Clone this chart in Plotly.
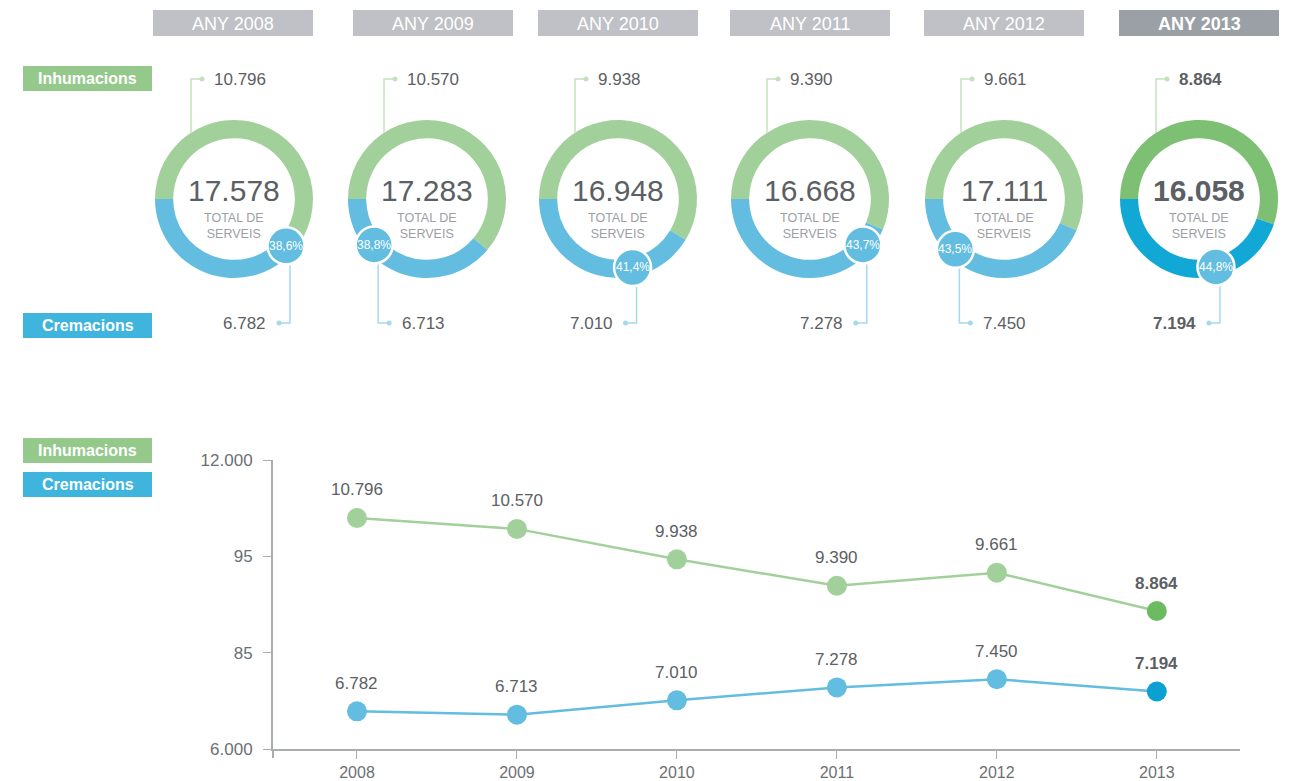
import math
import plotly.graph_objects as go

# ---------------- data ----------------
years = [2008, 2009, 2010, 2011, 2012, 2013]
year_labels = ["ANY 2008", "ANY 2009", "ANY 2010", "ANY 2011", "ANY 2012", "ANY 2013"]
inhumacions = [10796, 10570, 9938, 9390, 9661, 8864]
cremacions = [6782, 6713, 7010, 7278, 7450, 7194]
totals = [17578, 17283, 16948, 16668, 17111, 16058]
pct_labels = ["38,6%", "38,8%", "41,4%", "43,7%", "43,5%", "44,8%"]
y_tick_vals = [6000, 8000, 10000, 12000]
y_tick_text = ["6.000", "85", "95", "12.000"]


def fmt(v):
    return f"{v:,}".replace(",", ".")


# ---------------- layout helpers (window pixel -> paper; page body has an 8px margin) ----------------
W, H = 1291, 781
OFF = 8
FONT = "Liberation Sans, Arial, sans-serif"


def px(x):
    return (x - OFF) / W


def py(y):
    return 1 - (y - OFF) / H


GREEN = "#a2d09a"
BLUE = "#62bde0"
GREEN_DK = "#7dc073"
BLUE_DK = "#12a8d6"
GREEN_LEAD = "#c3e2bc"
BLUE_LEAD = "#a6d8ee"
TXT = "#5b6064"
SUB = "#9ca0a4"
AXIS = "#a9adb0"

# donut geometry (pixels)
centers_x = [234, 427, 618, 810, 1004, 1199]
center_y = 199
R = 79
badge_angles = [132, 229, 168, 131, 224, 166]   # clockwise from 12 o'clock
badge_side = [-1, 1, -1, -1, 1, -1]            # bottom label side
header_x0 = [153, 353, 538, 730, 924, 1119]
header_w = 160

fig = go.Figure()
shapes = []
annotations = []


def note(x, y, text, size, color, xanchor="center", family=FONT, xref="paper", yref="paper", yshift=0):
    annotations.append(dict(xref=xref, yref=yref, x=x, y=y, text=text, showarrow=False,
                            xanchor=xanchor, yanchor="middle", yshift=yshift,
                            font=dict(size=size, color=color, family=family)))


for i, yr in enumerate(years):
    cx = centers_x[i]
    last = i == len(years) - 1
    g = GREEN_DK if last else GREEN
    b = BLUE_DK if last else BLUE
    fig.add_trace(go.Pie(
        values=[inhumacions[i], cremacions[i]],
        labels=["Inhumacions", "Cremacions"],
        marker=dict(colors=[g, b], line=dict(width=0)),
        hole=0.77, sort=False, direction="clockwise", rotation=270,
        textinfo="none", showlegend=False, automargin=False,
        domain=dict(x=[px(cx - R), px(cx + R)], y=[py(center_y + R), py(center_y - R)]),
    ))

    # header
    shapes.append(dict(type="rect", xref="paper", yref="paper",
                       x0=px(header_x0[i]), x1=px(header_x0[i] + header_w),
                       y0=py(36), y1=py(10), line=dict(width=0),
                       fillcolor="#9b9fa6" if last else "#bfc1c6"))
    note(px(header_x0[i] + header_w / 2), py(23.5),
         f"<b>{year_labels[i]}</b>" if last else year_labels[i], 18, "white")

    # center texts
    note(px(cx), py(190), f"<b>{fmt(totals[i])}</b>" if last else fmt(totals[i]), 30, TXT)
    note(px(cx), py(226), "TOTAL DE<br>SERVEIS", 12.5, SUB)

    # top leader (inhumacions)
    lx = cx - 43
    ly0 = center_y - math.sqrt(R * R - 43 * 43)
    shapes.append(dict(type="path", xref="paper", yref="paper",
                       path=f"M {px(lx)} {py(ly0)} L {px(lx)} {py(79)} L {px(lx + 11)} {py(79)}",
                       line=dict(color=GREEN_LEAD, width=1.5)))
    shapes.append(dict(type="circle", xref="paper", yref="paper",
                       x0=px(lx + 8.5), x1=px(lx + 13.5), y0=py(81.5), y1=py(76.5),
                       fillcolor=GREEN_LEAD, line=dict(width=0)))
    note(px(lx + 21), py(79), f"<b>{fmt(inhumacions[i])}</b>" if last else fmt(inhumacions[i]),
         17, TXT, xanchor="left")

    # badge
    a = math.radians(badge_angles[i])
    bx = cx + 70 * math.sin(a)
    by = center_y - 70 * math.cos(a)
    br = 18.5
    side = badge_side[i]
    vx = bx + 4
    shapes.append(dict(type="path", xref="paper", yref="paper",
                       path=f"M {px(vx)} {py(by + br)} L {px(vx)} {py(323)} L {px(vx + side * 11)} {py(323)}",
                       line=dict(color=BLUE_LEAD, width=1.5)))
    shapes.append(dict(type="circle", xref="paper", yref="paper",
                       x0=px(vx + side * 11 - 2.5), x1=px(vx + side * 11 + 2.5), y0=py(325.5), y1=py(320.5),
                       fillcolor=BLUE_LEAD, line=dict(width=0)))
    note(px(vx + side * 22), py(323), f"<b>{fmt(cremacions[i])}</b>" if last else fmt(cremacions[i]),
         17, TXT, xanchor="left" if side > 0 else "right")
    shapes.append(dict(type="circle", xref="paper", yref="paper",
                       x0=px(bx - br), x1=px(bx + br), y0=py(by + br), y1=py(by - br),
                       fillcolor=BLUE, line=dict(color="white", width=2.5)))
    note(px(bx), py(by), pct_labels[i], 12, "white", family="Liberation Sans Narrow, " + FONT)

# side labels
for label, y0, col in [("Inhumacions", 66, "#94c98b"), ("Cremacions", 313, "#3fb4dd"),
                       ("Inhumacions", 438, "#94c98b"), ("Cremacions", 472, "#3fb4dd")]:
    shapes.append(dict(type="rect", xref="paper", yref="paper", x0=px(23), x1=px(152),
                       y0=py(y0 + 25), y1=py(y0), fillcolor=col, line=dict(width=0)))
    note(px(87.5), py(y0 + 12.5), f"<b>{label}</b>", 16, "white")

# y-axis line continues a little below the x-axis
shapes.append(dict(type="line", xref="paper", yref="paper", x0=px(273), x1=px(273),
                   y0=py(749), y1=py(758), line=dict(color=AXIS, width=2)))

# ---------------- line chart ----------------
n = len(years)
inh_colors = [GREEN] * (n - 1) + ["#6cbb63"]
cre_colors = [BLUE] * (n - 1) + ["#0aa0d2"]
fig.add_trace(go.Scatter(x=years, y=inhumacions, mode="lines+markers", name="Inhumacions",
                         line=dict(color=GREEN, width=2.5),
                         marker=dict(size=20, color=inh_colors),
                         xaxis="x", yaxis="y", showlegend=False))
fig.add_trace(go.Scatter(x=years, y=cremacions, mode="lines+markers", name="Cremacions",
                         line=dict(color=BLUE, width=2.5),
                         marker=dict(size=20, color=cre_colors),
                         xaxis="x", yaxis="y", showlegend=False))
for series in (inhumacions, cremacions):
    for j, (xv, yv) in enumerate(zip(years, series)):
        last = j == n - 1
        note(xv, yv, f"<b>{fmt(yv)}</b>" if last else fmt(yv), 17, TXT,
             xref="x", yref="y", yshift=28)

fig.update_layout(
    width=W, height=H,
    margin=dict(l=0, r=0, t=0, b=0, pad=0, autoexpand=False),
    paper_bgcolor="white", plot_bgcolor="white",
    font=dict(family=FONT, color=TXT),
    xaxis=dict(domain=[px(273), px(1240)], range=[2007.475, 2013.52],
               anchor="y", tickvals=years, ticktext=[str(y) for y in years], automargin=False,
               showgrid=False, zeroline=False, showline=True, linecolor=AXIS, linewidth=2,
               ticks="outside", ticklen=8, tickcolor=AXIS, tickwidth=1,
               tickfont=dict(size=16, color="#6b7074")),
    yaxis=dict(domain=[py(749), py(460)], range=[6000, 12000], anchor="x", automargin=False,
               tickvals=y_tick_vals, ticktext=y_tick_text, ticklabelstandoff=7,
               showgrid=False, zeroline=False, showline=True, linecolor=AXIS, linewidth=2,
               ticks="outside", ticklen=8, tickcolor=AXIS, tickwidth=1,
               tickfont=dict(size=17, color="#6b7074")),
    shapes=shapes,
    annotations=annotations,
)

fig.write_html("out.html")
